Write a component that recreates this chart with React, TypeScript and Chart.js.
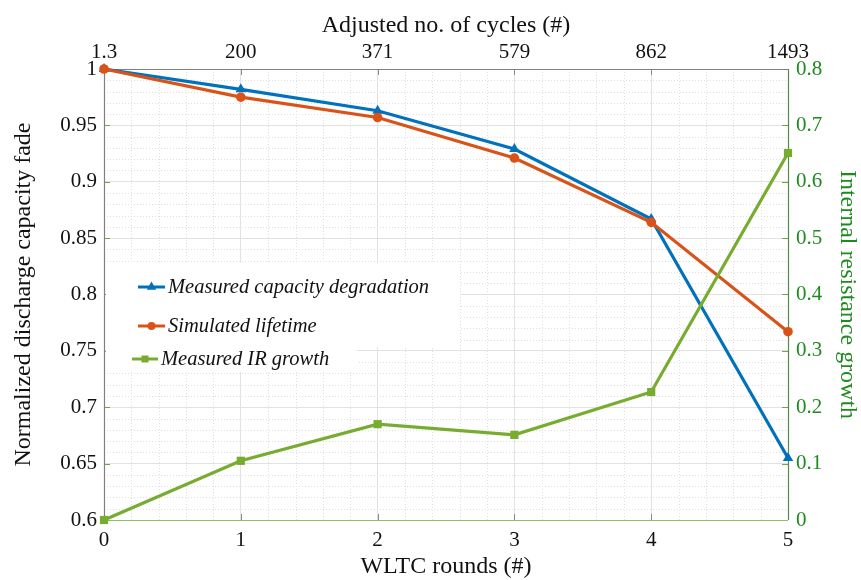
import React, { useEffect, useRef } from "react";
import { Chart, registerables } from "chart.js";

Chart.register(...registerables);

// ---- data ----
const wltcRounds = [0, 1, 2, 3, 4, 5];
const adjustedCycles = ["1.3", "200", "371", "579", "862", "1493"];
const measuredCapacity = [1.0, 0.982, 0.963, 0.929, 0.867, 0.655];
const simulatedLifetime = [1.0, 0.975, 0.957, 0.921, 0.864, 0.767];
const irGrowth = [0.0, 0.105, 0.17, 0.151, 0.227, 0.651];

const seriesLabels = [
  "Measured capacity degradation",
  "Simulated lifetime",
  "Measured IR growth",
];

const BLUE = "#0072BD";
const ORANGE = "#D95319";
const GREEN = "#77AC30";
const AXIS_GREEN = "#1f8a1f";
const FONT = "'Liberation Serif', 'Times New Roman', serif";

const decorPlugin = {
  id: "decor",
  beforeDatasetsDraw(chart: any) {
    const { ctx, chartArea: a, scales } = chart;
    const x = scales.x;
    const y = scales.y;
    ctx.save();
    // minor grid (dotted)
    ctx.strokeStyle = "#e0e0e0";
    ctx.lineWidth = 1;
    ctx.setLineDash([1, 2]);
    for (let i = 0; i <= 25; i++) {
      if (i % 5 === 0) continue;
      const px = Math.round(x.getPixelForValue(i * 0.2)) + 0.5;
      ctx.beginPath();
      ctx.moveTo(px, a.top);
      ctx.lineTo(px, a.bottom);
      ctx.stroke();
    }
    for (let i = 0; i <= 40; i++) {
      if (i % 5 === 0) continue;
      const py = Math.round(y.getPixelForValue(0.6 + i * 0.01)) + 0.5;
      ctx.beginPath();
      ctx.moveTo(a.left, py);
      ctx.lineTo(a.right, py);
      ctx.stroke();
    }
    ctx.setLineDash([]);
    // inward tick marks
    const tl = 6;
    ctx.lineWidth = 1;
    ctx.strokeStyle = "#6fa84a";
    for (let i = 0; i <= 8; i++) {
      const py = Math.round(y.getPixelForValue(0.6 + i * 0.05)) + 0.5;
      ctx.beginPath();
      ctx.moveTo(a.left, py);
      ctx.lineTo(a.left + tl, py);
      ctx.moveTo(a.right, py);
      ctx.lineTo(a.right - tl, py);
      ctx.stroke();
    }
    ctx.strokeStyle = "#8a8a8a";
    for (let i = 0; i < wltcRounds.length; i++) {
      const px = Math.round(x.getPixelForValue(wltcRounds[i])) + 0.5;
      ctx.beginPath();
      ctx.moveTo(px, a.bottom);
      ctx.lineTo(px, a.bottom - tl);
      ctx.moveTo(px, a.top);
      ctx.lineTo(px, a.top + tl);
      ctx.stroke();
    }
    // spines
    ctx.lineWidth = 1.2;
    ctx.strokeStyle = "#808080";
    ctx.beginPath();
    ctx.moveTo(a.left + 0.5, a.bottom);
    ctx.lineTo(a.left + 0.5, a.top + 0.5);
    ctx.lineTo(a.right, a.top + 0.5);
    ctx.stroke();
    ctx.strokeStyle = "#4f8f45";
    ctx.beginPath();
    ctx.moveTo(a.right + 0.5, a.top);
    ctx.lineTo(a.right + 0.5, a.bottom);
    ctx.stroke();
    ctx.strokeStyle = "#8cc063";
    ctx.beginPath();
    ctx.moveTo(a.left, a.bottom + 0.5);
    ctx.lineTo(a.right, a.bottom + 0.5);
    ctx.stroke();
    ctx.restore();
  },
  afterDatasetsDraw(chart: any) {
    const { ctx } = chart;
    const ds = chart.data.datasets;
    ctx.save();
    // legend backgrounds
    ctx.fillStyle = "#ffffff";
    ctx.fillRect(106, 263, 354, 84);
    ctx.fillRect(106, 347, 251, 25);
    const rows = [
      { idx: 0, x0: 138, x1: 165, y: 287, tx: 168 },
      { idx: 1, x0: 138, x1: 165, y: 326, tx: 168 },
      { idx: 2, x0: 132, x1: 158, y: 359, tx: 161 },
    ];
    ctx.font = `italic 20.5px ${FONT}`;
    ctx.textBaseline = "middle";
    ctx.textAlign = "left";
    for (const r of rows) {
      const d = ds[r.idx];
      ctx.strokeStyle = d.borderColor;
      ctx.lineWidth = 3;
      ctx.beginPath();
      ctx.moveTo(r.x0, r.y);
      ctx.lineTo(r.x1, r.y);
      ctx.stroke();
      const cx = (r.x0 + r.x1) / 2;
      ctx.fillStyle = d.borderColor;
      ctx.beginPath();
      if (d.pointStyle === "triangle") {
        const rr = 5.5;
        ctx.moveTo(cx, r.y - rr);
        ctx.lineTo(cx + rr * 0.866, r.y + rr * 0.5);
        ctx.lineTo(cx - rr * 0.866, r.y + rr * 0.5);
        ctx.closePath();
      } else if (d.pointStyle === "circle") {
        ctx.arc(cx, r.y, 4, 0, Math.PI * 2);
      } else {
        ctx.rect(cx - 3.5, r.y - 3.5, 7, 7);
      }
      ctx.fill();
      ctx.fillStyle = "#111111";
      ctx.fillText(d.label, r.tx, r.y + 1);
    }
    ctx.restore();
  },
};

export default function App() {
  const ref = useRef<HTMLCanvasElement | null>(null);

  useEffect(() => {
    if (!ref.current) return;
    const tickFont = { family: FONT, size: 21 };
    const titleFont = { family: FONT, size: 24 };
    const chart = new Chart(ref.current, {
      type: "line",
      data: {
        datasets: [
          {
            label: seriesLabels[0],
            data: wltcRounds.map((r, i) => ({ x: r, y: measuredCapacity[i] })),
            borderColor: BLUE,
            backgroundColor: BLUE,
            borderWidth: 3.2,
            pointStyle: "triangle",
            pointRadius: 6,
            pointBorderWidth: 0,
            xAxisID: "x",
            yAxisID: "y",
            order: 2,
            clip: false as any,
          },
          {
            label: seriesLabels[1],
            data: wltcRounds.map((r, i) => ({ x: r, y: simulatedLifetime[i] })),
            borderColor: ORANGE,
            backgroundColor: ORANGE,
            borderWidth: 3.2,
            pointStyle: "circle",
            pointRadius: 4.8,
            pointBorderWidth: 0,
            xAxisID: "x",
            yAxisID: "y",
            order: 1,
            clip: false as any,
          },
          {
            label: seriesLabels[2],
            data: wltcRounds.map((r, i) => ({ x: r, y: irGrowth[i] })),
            borderColor: GREEN,
            backgroundColor: GREEN,
            borderWidth: 3.2,
            pointStyle: "rect",
            pointRadius: 5.8,
            pointBorderWidth: 0,
            xAxisID: "x",
            yAxisID: "y2",
            order: 0,
            clip: false as any,
          },
        ],
      },
      options: {
        responsive: false,
        animation: false,
        layout: { padding: 0 },
        plugins: { legend: { display: false }, tooltip: { enabled: false } },
        scales: {
          x: {
            type: "linear",
            position: "bottom",
            min: 0,
            max: 5,
            border: { display: false },
            grid: { color: "#e2e2e2", drawTicks: false, lineWidth: 1 },
            ticks: {
              stepSize: 1,
              autoSkip: false,
              maxRotation: 0,
              padding: 8,
              color: "#111",
              font: tickFont,
              callback: (v: any) => String(v),
            },
            title: {
              display: true,
              text: "WLTC rounds (#)",
              color: "#111",
              font: titleFont,
              padding: { top: 0, bottom: -1 },
            },
            afterFit: (s: any) => {
              s.height = 60;
            },
          },
          x2: {
            type: "linear",
            position: "top",
            min: 0,
            max: 5,
            border: { display: false },
            grid: { drawOnChartArea: false, drawTicks: false },
            ticks: {
              stepSize: 1,
              autoSkip: false,
              maxRotation: 0,
              padding: 4,
              color: "#111",
              font: tickFont,
              callback: (v: any) => adjustedCycles[Math.round(v)] ?? "",
            },
            title: {
              display: true,
              text: "Adjusted no. of cycles (#)",
              color: "#111",
              font: titleFont,
              padding: { top: 11, bottom: 0 },
            },
            afterFit: (s: any) => {
              s.height = 69;
            },
          },
          y: {
            type: "linear",
            position: "left",
            min: 0.6,
            max: 1,
            border: { display: false },
            grid: { color: "#e2e2e2", drawTicks: false, lineWidth: 1 },
            ticks: {
              stepSize: 0.05,
              padding: 7,
              color: "#111",
              font: tickFont,
              callback: (v: any) => String(Number(Number(v).toFixed(2))),
            },
            title: {
              display: true,
              text: "Normalized discharge capacity fade",
              color: "#111",
              font: titleFont,
              padding: { top: 9, bottom: 0 },
            },
            afterFit: (s: any) => {
              s.width = 104;
            },
          },
          y2: {
            type: "linear",
            position: "right",
            min: 0,
            max: 0.8,
            border: { display: false },
            grid: { drawOnChartArea: false, drawTicks: false },
            ticks: {
              stepSize: 0.1,
              padding: 8,
              color: AXIS_GREEN,
              font: tickFont,
              callback: (v: any) => String(Number(Number(v).toFixed(2))),
            },
            title: {
              display: true,
              text: "Internal resistance growth",
              color: AXIS_GREEN,
              font: titleFont,
              padding: { top: -1, bottom: 0 },
            },
            afterFit: (s: any) => {
              s.width = 73;
            },
          },
        },
      },
      plugins: [decorPlugin],
    });
    return () => chart.destroy();
  }, []);

  return (
    <div
      style={{
        position: "absolute",
        left: 0,
        top: 0,
        width: 861,
        height: 580,
        background: "#fff",
      }}
    >
      <canvas ref={ref} width={861} height={580} />
    </div>
  );
}
